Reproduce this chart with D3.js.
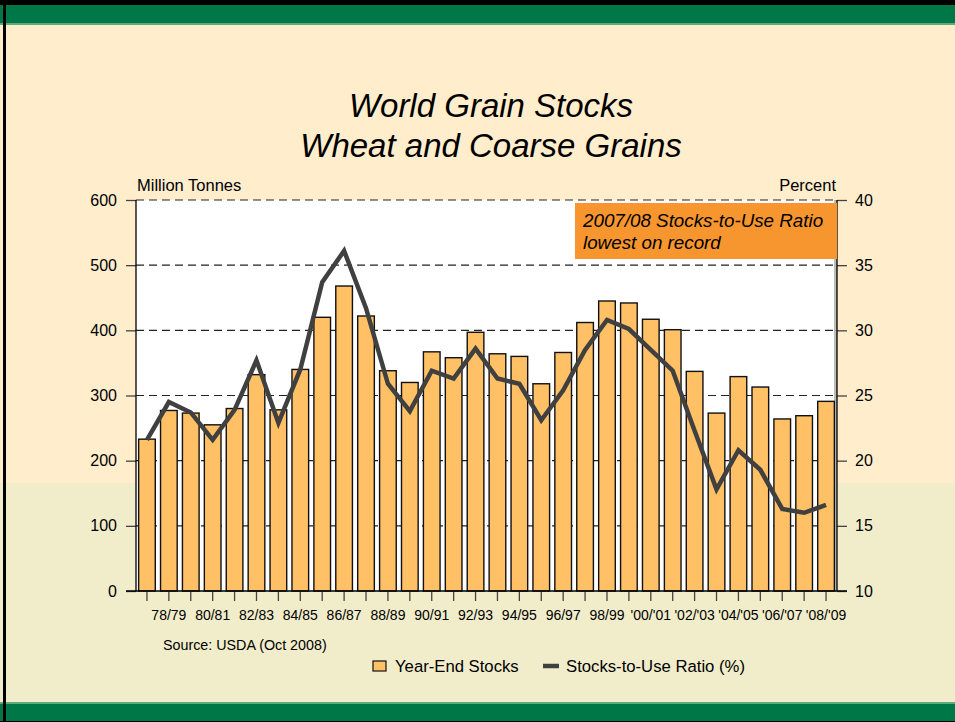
<!DOCTYPE html>
<html>
<head>
<meta charset="utf-8">
<script src="https://cdn.jsdelivr.net/npm/d3@7"></script>
<style>
  body { margin: 0; padding: 0; }
  svg { display: block; font-family: "Liberation Sans", Arial, sans-serif; }
</style>
</head>
<body>
<div id="chart"></div>
<script>
// crop years 77/78 .. 08/09
var years = ["77/78", "78/79", "79/80", "80/81", "81/82", "82/83", "83/84", "84/85",
  "85/86", "86/87", "87/88", "88/89", "89/90", "90/91", "91/92", "92/93",
  "93/94", "94/95", "95/96", "96/97", "97/98", "98/99", "'99/'00", "'00/'01",
  "'01/'02", "'02/'03", "'03/'04", "'04/'05", "'05/'06", "'06/'07", "'07/'08", "'08/'09"];

// year-end stocks, million tonnes
var stocks = [233, 277, 273, 255, 280, 332, 278, 340, 420, 468, 422, 338, 320, 367, 358, 397,
  364, 360, 318, 366, 412, 445, 442, 417, 401, 337, 273, 329, 313, 264, 269, 291];

// stocks-to-use ratio, percent
var ratio = [21.6, 24.5, 23.7, 21.6, 23.9, 27.7, 22.9, 27.0, 33.7, 36.1, 31.7, 25.9, 23.8, 26.9, 26.3, 28.6,
  26.3, 25.9, 23.1, 25.4, 28.5, 30.8, 30.1, 28.5, 26.9, 22.3, 17.8, 20.8, 19.3, 16.3, 16.0, 16.6];

var leftTicks = [0, 100, 200, 300, 400, 500, 600];
var rightTicks = [10, 15, 20, 25, 30, 35, 40];

var width = 955, height = 722;
var pLeft = 136, pRight = 837, pTop = 200, pBottom = 591;

var svg = d3.select("#chart").append("svg")
  .attr("width", width)
  .attr("height", height);

// slide background
svg.append("rect").attr("x", 0).attr("y", 0).attr("width", width).attr("height", height).attr("fill", "#FFEDCC");
svg.append("rect").attr("x", 0).attr("y", 483).attr("width", width).attr("height", height - 483).attr("fill", "#F1EDCB");
svg.append("rect").attr("x", 0).attr("y", 0).attr("width", width).attr("height", 5).attr("fill", "#000");
svg.append("rect").attr("x", 0).attr("y", 5).attr("width", width).attr("height", 18).attr("fill", "#007746");
svg.append("rect").attr("x", 0).attr("y", 23).attr("width", width).attr("height", 2).attr("fill", "#5FA97F");
svg.append("rect").attr("x", 0).attr("y", 702).attr("width", width).attr("height", 2).attr("fill", "#5FA97F");
svg.append("rect").attr("x", 0).attr("y", 704).attr("width", width).attr("height", 17).attr("fill", "#007746");
svg.append("rect").attr("x", 0).attr("y", 721).attr("width", width).attr("height", 1).attr("fill", "#000");
svg.append("rect").attr("x", 3).attr("y", 0).attr("width", 3).attr("height", height).attr("fill", "#000");

// title
svg.append("text").attr("x", 491).attr("y", 117).attr("text-anchor", "middle")
  .style("font-size", "33px").style("font-style", "italic").text("World Grain Stocks");
svg.append("text").attr("x", 491).attr("y", 157).attr("text-anchor", "middle")
  .style("font-size", "33px").style("font-style", "italic").text("Wheat and Coarse Grains");

var x = d3.scaleBand().domain(years).range([pLeft, pRight]).paddingInner(0.24).paddingOuter(0.12);
var y = d3.scaleLinear().domain([0, 600]).range([pBottom, pTop]);
var y2 = d3.scaleLinear().domain([10, 40]).range([pBottom, pTop]);

// plot area
svg.append("rect").attr("x", pLeft).attr("y", pTop).attr("width", pRight - pLeft).attr("height", pBottom - pTop).attr("fill", "#fff");
svg.append("rect").attr("x", pRight - 3).attr("y", pTop).attr("width", 3).attr("height", pBottom - pTop).attr("fill", "#bbb");

// dashed grid
svg.append("g").selectAll("line")
  .data(leftTicks.filter(function(d) { return d > 0; }))
  .enter().append("line")
    .attr("x1", pLeft).attr("x2", pRight)
    .attr("y1", function(d) { return y(d); })
    .attr("y2", function(d) { return y(d); })
    .attr("stroke", "#222").attr("stroke-width", 1.2)
    .attr("stroke-dasharray", "8,5");

// bars
var step = x.step();
svg.append("g").selectAll("rect")
  .data(stocks)
  .enter().append("rect")
    .attr("x", function(d, i) { return x(years[i]) + x.bandwidth() / 2 - step * 0.38; })
    .attr("y", function(d) { return y(d); })
    .attr("width", step * 0.76)
    .attr("height", function(d) { return pBottom - y(d); })
    .attr("fill", "#FFC066")
    .attr("stroke", "#111")
    .attr("stroke-width", 1.4);

// axes
var leftAxis = svg.append("g")
  .attr("transform", "translate(" + pLeft + ",0)")
  .call(d3.axisLeft(y).tickValues(leftTicks).tickSize(10).tickPadding(9));
var rightAxis = svg.append("g")
  .attr("transform", "translate(" + pRight + ",0)")
  .call(d3.axisRight(y2).tickValues(rightTicks).tickSize(10).tickPadding(8));
var bottomAxis = svg.append("g")
  .attr("transform", "translate(0," + pBottom + ")")
  .call(d3.axisBottom(x).tickSize(10).tickPadding(9)
    .tickFormat(function(d, i) { return i % 2 === 1 ? d : ""; }));

[leftAxis, rightAxis, bottomAxis].forEach(function(g) {
  g.select(".domain").remove();
  g.selectAll(".tick line").attr("stroke", "#444").attr("stroke-width", 1.3);
  g.selectAll("text").style("font-size", "16px").style("font-family", "Liberation Sans, Arial, sans-serif").attr("fill", "#000");
});
bottomAxis.selectAll("text").style("font-size", "14px");

svg.append("line").attr("x1", pLeft).attr("x2", pLeft).attr("y1", pTop).attr("y2", pBottom).attr("stroke", "#000").attr("stroke-width", 1.3);
svg.append("line").attr("x1", pRight).attr("x2", pRight).attr("y1", pTop).attr("y2", pBottom).attr("stroke", "#000").attr("stroke-width", 1.3);
svg.append("line").attr("x1", pLeft - 10).attr("x2", pRight + 10).attr("y1", pBottom).attr("y2", pBottom).attr("stroke", "#000").attr("stroke-width", 1.3);

// ratio line
var line = d3.line()
  .x(function(d, i) { return x(years[i]) + x.bandwidth() / 2; })
  .y(function(d) { return y2(d); });
svg.append("path").datum(ratio)
  .attr("d", line)
  .attr("fill", "none")
  .attr("stroke", "#404040")
  .attr("stroke-width", 4.5)
  .attr("stroke-linejoin", "miter");

// axis titles
svg.append("text").attr("x", 137).attr("y", 191).style("font-size", "16.5px").text("Million Tonnes");
svg.append("text").attr("x", 836).attr("y", 191).attr("text-anchor", "end").style("font-size", "16.5px").text("Percent");

// annotation
svg.append("rect").attr("x", 575).attr("y", 203).attr("width", 262).attr("height", 56).attr("fill", "#F7962E");
svg.append("text").attr("x", 583).attr("y", 227).style("font-size", "18.8px").style("font-style", "italic").text("2007/08 Stocks-to-Use Ratio");
svg.append("text").attr("x", 583).attr("y", 249).style("font-size", "18.8px").style("font-style", "italic").text("lowest on record");

// source
svg.append("text").attr("x", 163).attr("y", 650).style("font-size", "14.3px").text("Source:  USDA (Oct 2008)");

// legend
svg.append("rect").attr("x", 373).attr("y", 661).attr("width", 13).attr("height", 10)
  .attr("fill", "#FFC066").attr("stroke", "#111").attr("stroke-width", 1.2);
svg.append("text").attr("x", 395).attr("y", 672).style("font-size", "16.7px").text("Year-End Stocks");
svg.append("line").attr("x1", 543).attr("x2", 559).attr("y1", 666).attr("y2", 666)
  .attr("stroke", "#404040").attr("stroke-width", 4.5);
svg.append("text").attr("x", 566).attr("y", 672).style("font-size", "16.7px").text("Stocks-to-Use Ratio (%)");
</script>
</body>
</html>
